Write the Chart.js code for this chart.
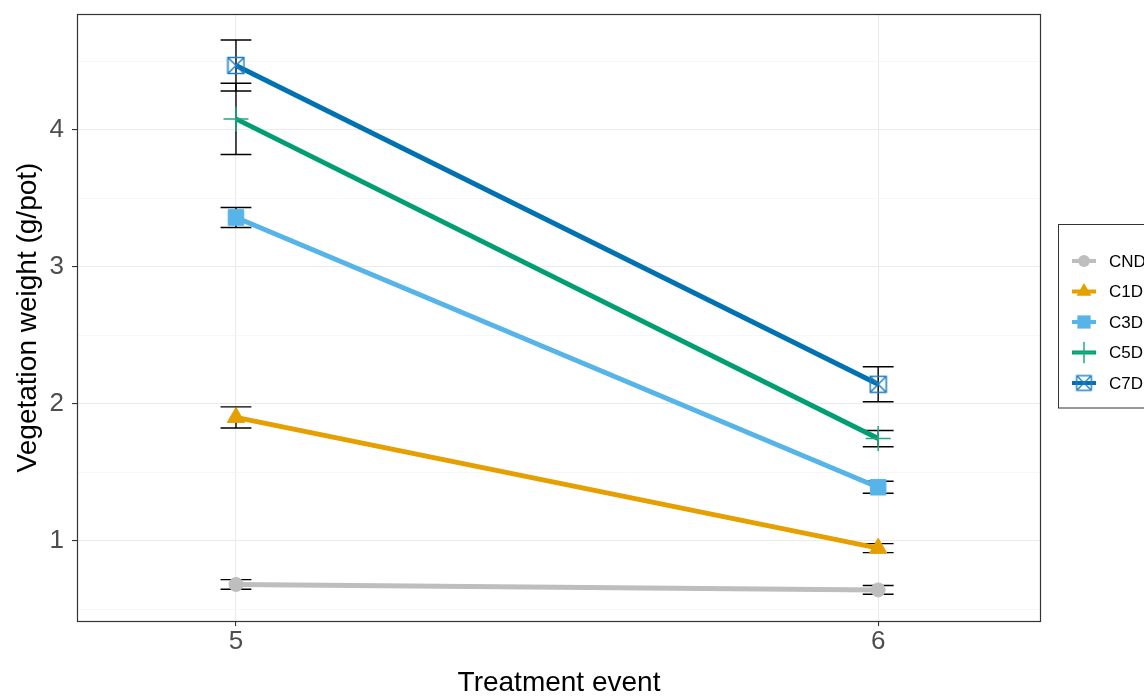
<!DOCTYPE html>
<html lang="en">
<head>
<meta charset="UTF-8">
<title>Vegetation weight by treatment event</title>
<script src="https://cdn.jsdelivr.net/npm/chart.js@4"></script>
<style>
  body { margin: 0; background: #fff; }
  canvas { display: block; }
</style>
</head>
<body>
<canvas id="weightChart" width="1144" height="696"></canvas>
<script>
// treatment events on the x axis
const events = [5, 6];
const treatments = ['CND', 'C1D', 'C3D', 'C5D', 'C7D'];

// mean vegetation weight (g/pot) and standard error per treatment
const cndMean = [0.68, 0.64];
const cndSe   = [0.035, 0.032];
const c1dMean = [1.90, 0.945];
const c1dSe   = [0.077, 0.033];
const c3dMean = [3.36, 1.39];
const c3dSe   = [0.073, 0.044];
const c5dMean = [4.08, 1.745];
const c5dSe   = [0.26, 0.059];
const c7dMean = [4.47, 2.142];
const c7dSe   = [0.186, 0.128];

const yBreaks = [1, 2, 3, 4];
const yMinorBreaks = [0.5, 1.5, 2.5, 3.5, 4.5];

const FONT = "'Liberation Sans', Arial, sans-serif";
Chart.defaults.font.family = FONT;

// open square with a cross, used for C7D
function boxCross(color) {
  const c = document.createElement('canvas');
  c.width = 19; c.height = 19;
  const g = c.getContext('2d');
  g.strokeStyle = color;
  g.lineWidth = 1.5;
  g.strokeRect(1.5, 1.5, 16, 16);
  g.beginPath();
  g.moveTo(1.5, 1.5); g.lineTo(17.5, 17.5);
  g.moveTo(17.5, 1.5); g.lineTo(1.5, 17.5);
  g.stroke();
  return c;
}

const means = [cndMean, c1dMean, c3dMean, c5dMean, c7dMean];
const errors = [cndSe, c1dSe, c3dSe, c5dSe, c7dSe];
const colors = ['#BEBEBE', '#E69F00', '#56B4E9', '#009E73', '#0072B2'];
const shapes = ['circle', 'triangle', 'rect', 'cross', boxCross('#1F7EC1')];
const radii = [7, 10, 11, 12.5, 9];
const pointWidths = [1, 1, 1, 1.5, 1];

const datasets = treatments.map((name, i) => ({
  label: name,
  data: events.map((x, j) => ({x: x, y: means[i][j]})),
  se: errors[i],
  borderColor: colors[i],
  backgroundColor: colors[i],
  borderWidth: 5,
  tension: 0,
  pointStyle: shapes[i],
  pointRadius: radii[i],
  pointBackgroundColor: i === 3 ? '#1DAA82' : colors[i],
  pointBorderColor: i === 3 ? '#1DAA82' : colors[i],
  pointBorderWidth: pointWidths[i],
  order: treatments.length - i
}));

// black error bars with caps, drawn under the lines
const CAP = 0.048;
const errorBars = {
  id: 'errorBars',
  beforeDatasetsDraw(chart) {
    const {ctx, chartArea: a, scales: {x, y}} = chart;
    ctx.save();
    ctx.beginPath();
    ctx.rect(a.left, a.top, a.right - a.left, a.bottom - a.top);
    ctx.clip();
    ctx.strokeStyle = '#000';
    ctx.lineWidth = 1.4;
    chart.data.datasets.forEach(ds => {
      ds.data.forEach((p, i) => {
        const px = x.getPixelForValue(p.x);
        const w = x.getPixelForValue(p.x + CAP / 2) - px;
        const lo = y.getPixelForValue(p.y - ds.se[i]);
        const hi = y.getPixelForValue(p.y + ds.se[i]);
        ctx.beginPath();
        ctx.moveTo(px, lo); ctx.lineTo(px, hi);
        ctx.moveTo(px - w, lo); ctx.lineTo(px + w, lo);
        ctx.moveTo(px - w, hi); ctx.lineTo(px + w, hi);
        ctx.stroke();
      });
    });
    ctx.restore();
  }
};

function drawKeyMarker(ctx, ds, x, y) {
  const r = ds.pointRadius * 0.85;
  const style = ds.pointStyle;
  ctx.fillStyle = ds.pointBackgroundColor;
  ctx.strokeStyle = ds.pointBorderColor;
  ctx.lineWidth = ds.pointBorderWidth;
  ctx.beginPath();
  if (style === 'circle') {
    ctx.arc(x, y, r, 0, Math.PI * 2);
    ctx.fill();
  } else if (style === 'triangle') {
    ctx.moveTo(x, y - r);
    ctx.lineTo(x + r * 0.866, y + r / 2);
    ctx.lineTo(x - r * 0.866, y + r / 2);
    ctx.closePath();
    ctx.fill();
  } else if (style === 'rect') {
    const s = r * Math.SQRT1_2;
    ctx.rect(x - s, y - s, 2 * s, 2 * s);
    ctx.fill();
  } else if (style === 'cross') {
    ctx.moveTo(x - r, y); ctx.lineTo(x + r, y);
    ctx.moveTo(x, y - r); ctx.lineTo(x, y + r);
    ctx.stroke();
  } else {
    ctx.drawImage(style, x - style.width * 0.45, y - style.height * 0.45,
      style.width * 0.9, style.height * 0.9);
  }
}

// panel border and the legend box on the right
const frameAndLegend = {
  id: 'frameAndLegend',
  afterDraw(chart) {
    const {ctx, chartArea: a} = chart;
    ctx.save();
    ctx.strokeStyle = '#333';
    ctx.lineWidth = 1.2;
    ctx.strokeRect(a.left - 0.5, a.top + 0.5, a.right - a.left + 1, a.bottom - a.top);

    ctx.lineWidth = 1;
    ctx.strokeRect(1058.5, 224.5, 120, 183.5);
    ctx.font = '17px ' + FONT;
    ctx.textBaseline = 'middle';
    ctx.textAlign = 'left';
    chart.data.datasets.forEach((ds, i) => {
      const ky = 261 + i * 30.5;
      ctx.strokeStyle = ds.borderColor;
      ctx.lineWidth = 4;
      ctx.beginPath();
      ctx.moveTo(1072, ky);
      ctx.lineTo(1096, ky);
      ctx.stroke();
      drawKeyMarker(ctx, ds, 1084, ky);
      ctx.fillStyle = '#000';
      ctx.fillText(ds.label, 1109, ky + 1);
    });
    ctx.restore();
  }
};

new Chart(document.getElementById('weightChart'), {
  type: 'line',
  data: {datasets: datasets},
  options: {
    responsive: false,
    animation: false,
    layout: {padding: {top: 8, right: 104, bottom: 0, left: 0}},
    plugins: {
      legend: {display: false},
      tooltip: {enabled: false}
    },
    scales: {
      x: {
        type: 'linear',
        min: 4.754,
        max: 6.252,
        afterBuildTicks: s => { s.ticks = events.map(v => ({value: v})); },
        afterFit: s => { s.height = 75; s.paddingLeft = 0; s.paddingRight = 0; },
        border: {display: false},
        grid: {color: '#EBEBEB', lineWidth: 1.1, tickLength: 5, tickColor: '#333', tickWidth: 1.1},
        ticks: {font: {size: 26}, color: '#4D4D4D', padding: 0, maxRotation: 0, autoSkip: false},
        title: {
          display: true,
          text: 'Treatment event',
          color: '#000',
          font: {size: 28, lineHeight: 0.93},
          padding: 0
        }
      },
      y: {
        min: 0.413,
        max: 4.846,
        afterBuildTicks: s => {
          s.ticks = yMinorBreaks.concat(yBreaks).sort((a, b) => a - b).map(v => ({value: v}));
        },
        afterFit: s => { s.width = 78; s.paddingTop = 0; s.paddingBottom = 0; },
        border: {display: false},
        grid: {
          color: c => yBreaks.includes(c.tick.value) ? '#EBEBEB' : '#F3F3F3',
          lineWidth: c => yBreaks.includes(c.tick.value) ? 1.1 : 0.7,
          tickLength: 6,
          tickColor: c => yBreaks.includes(c.tick.value) ? '#333' : 'rgba(0,0,0,0)',
          tickWidth: 1.1
        },
        ticks: {
          font: {size: 26},
          color: '#4D4D4D',
          padding: 8,
          autoSkip: false,
          callback: v => yBreaks.includes(v) ? String(v) : ''
        },
        title: {
          display: true,
          text: 'Vegetation weight (g/pot)',
          color: '#000',
          font: {size: 28, lineHeight: 0.93},
          padding: {top: 15, bottom: 0}
        }
      }
    }
  },
  plugins: [errorBars, frameAndLegend]
});
</script>
</body>
</html>
